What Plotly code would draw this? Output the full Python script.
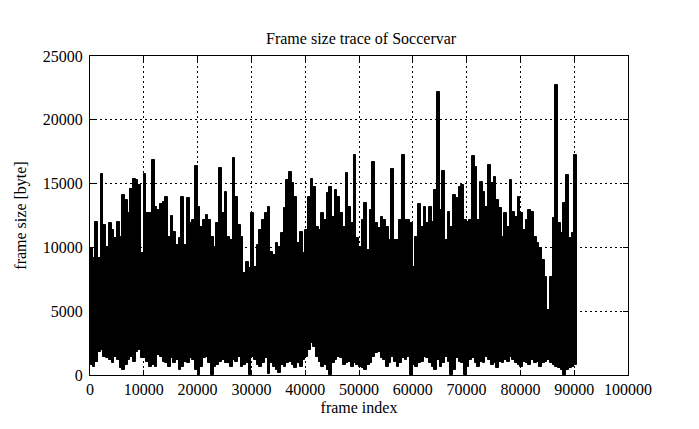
import plotly.graph_objects as go

# Frame size trace of "Soccervar", summarised per 500-frame bin
# (max / min frame size of each bin)
bin_size = 500
bin_start = list(range(0, 90500, bin_size))  # 181 bins

upper = [
    9930, 9150, 12020, 9150, 15730, 11760, 10060, 11940, 11370, 10710,
    11970, 10840, 14110, 13720, 12670, 14550, 15360, 15290, 14890, 9540,
    15730, 12670, 12670, 16850, 13200, 12930, 13400, 13540, 13980, 10840,
    12460, 11240, 10190, 10710, 13930, 10190, 13850, 11890, 12150, 16380,
    13200, 11630, 12150, 12540, 12150, 10840, 10060, 11890, 16200, 12670,
    14370, 10840, 10580, 16980, 13980, 11760, 10840, 7970, 8880, 8360,
    12670, 8490, 10190, 11370, 12150, 12670, 13200, 9670, 9410, 10320,
    10060, 11110, 13070, 15290, 15890, 15020, 13980, 10320, 11240, 9540,
    11370, 13980, 15360, 14760, 11630, 11370, 12670, 12150, 14240, 14760,
    12410, 14500, 13980, 12670, 11630, 15810, 13200, 11890, 17250, 10710,
    10060, 12150, 13460, 9800, 12930, 16720, 11890, 11500, 12410, 12150,
    11630, 10580, 16120, 10580, 10580, 12150, 17250, 12150, 12150, 11890,
    8490, 10840, 13400, 11630, 13200, 11890, 13200, 12020, 14500, 22210,
    12930, 16020, 10580, 12800, 11630, 14110, 13850, 14760, 14890, 12150,
    12020, 12150, 17170, 16330, 12150, 15160, 14370, 13200, 16460, 15020,
    15550, 13720, 13070, 10840, 12670, 11630, 15290, 12800, 12410, 13980,
    12670, 11370, 12150, 12930, 12800, 10840, 10320, 9930, 9010, 7710,
    5100, 7710, 12280, 22730, 11890, 11110, 13460, 15680, 10710, 11110,
    17250,
]

lower = [
    780, 650, 1050, 1830, 1960, 1440, 1310, 1180, 910, 1440,
    1180, 520, 390, 780, 1180, 1440, 1050, 1830, 1960, 1310,
    1310, 1050, 650, 780, 650,
    1570, 1440, 1050, 910, 650, 1310, 910, 1180, 390, 650,
    1050, 910, 1310, 1180, 390, 0, 650, 1310, 1440, 910,
    0, 650, 780, 1050, 1180, 910,
    910, 650, 1180, 1050, 1440, 650, 780, 910, 0, 1440,
    1180, 780, 650, 910, 1310, 100, 910, 650, 390, 130,
    780, 650, 910, 1050, 780, 520,
    910, 650, 1180, 1440, 1960, 2480, 2220, 1440, 1050, 650,
    780, 390, 0, 910, 1180, 1440, 1310, 780, 910, 1050,
    650, 910, 780, 650, 520, 390,
    780, 910, 1440, 1700, 1830, 1310, 1180, 650, 910, 1440,
    1050, 650, 910, 1310, 1180, 1440, 0, 780, 650, 910,
    1050, 1440, 1310, 910, 650, 390,
    1180, 650, 910, 1440, 1050, 0, 390, 1310, 1050, 910,
    0, 650, 1180, 1310, 910, 650, 1050, 910, 1440, 1180,
    780, 910, 520, 1050, 910, 1180,
    1050, 1440, 1180, 910, 780, 650, 1050, 910, 780, 1180,
    910, 1050, 650, 910, 1050, 1180, 910, 780, 650, 520,
    390, 0, 390, 520, 650, 780,
]

x_ticks = list(range(0, 100001, 10000))
y_ticks = list(range(0, 25001, 5000))

centers = [s + bin_size / 2 for s in bin_start]
heights = [u - l for u, l in zip(upper, lower)]

FONT = "Liberation Serif"

fig = go.Figure()
fig.add_trace(go.Bar(
    x=centers, y=heights, base=lower, width=bin_size,
    marker=dict(color="black", line=dict(color="black", width=1.0)),
    showlegend=False, hoverinfo="skip",
))

axis_common = dict(
    showline=True, linecolor="black", linewidth=1, mirror="ticks",
    ticks="inside", ticklen=5, tickcolor="black",
    showgrid=True, gridcolor="black", gridwidth=1, griddash="2px,3px",
    zeroline=False, tickfont=dict(family=FONT, size=16, color="black"),
)

fig.update_layout(
    width=691, height=421,
    margin=dict(l=79, r=71, t=48, b=54),
    paper_bgcolor="white", plot_bgcolor="white",
    bargap=0,
    title=dict(text="Frame size trace of Soccervar", x=0.511, xanchor="center",
               y=1 - 30 / 421, yref="container", yanchor="middle",
               font=dict(family=FONT, size=16, color="black")),
    xaxis=dict(range=[0, 100000], tickvals=x_ticks,
               ticktext=[str(v) for v in x_ticks],
               title=dict(text="frame index", standoff=4,
                          font=dict(family=FONT, size=16, color="black")),
               **axis_common),
    yaxis=dict(range=[0, 25000], tickvals=y_ticks,
               ticktext=[str(v) for v in y_ticks],
               ticklabelstandoff=3,
               title=dict(text="frame size [byte]", standoff=12,
                          font=dict(family=FONT, size=16, color="black")),
               **axis_common),
)

fig.write_html("out.html")
